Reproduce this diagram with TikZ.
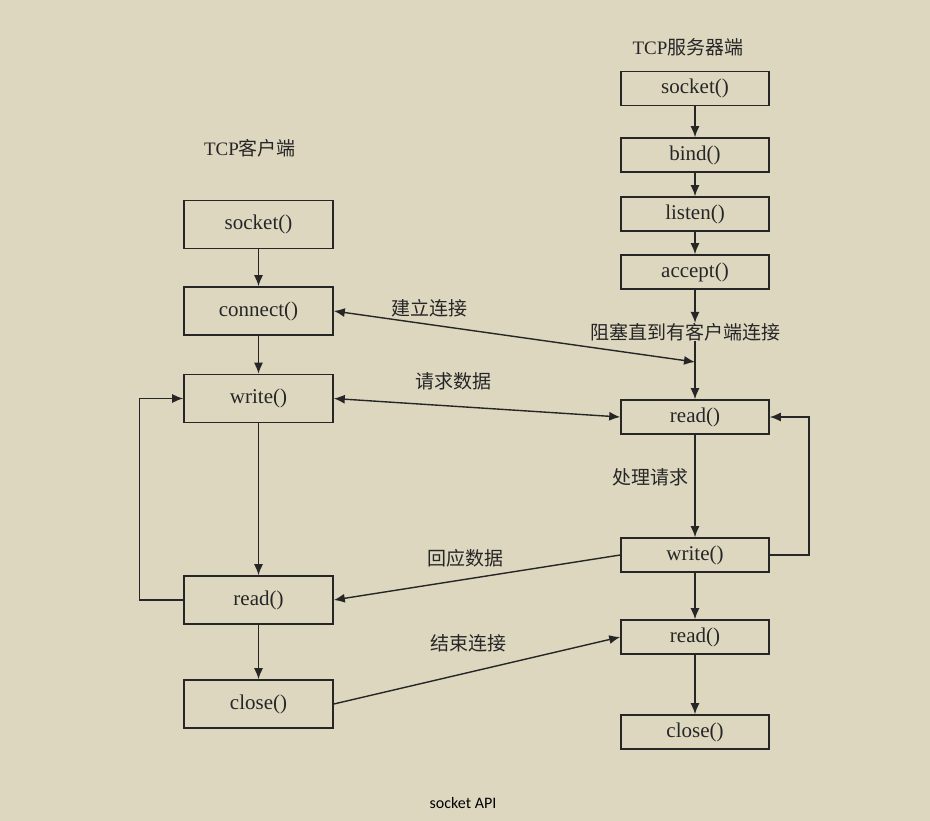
\documentclass[tikz,border=0pt]{standalone}
\usepackage{fontspec}
\setmainfont{Liberation Serif}
\newfontfamily\cjk{Noto Sans CJK SC}
\newfontfamily\capfont{Carlito}
\usetikzlibrary{arrows.meta}
\definecolor{bg}{HTML}{DDD7C0}
\definecolor{ink}{HTML}{262626}
\begin{document}
\begin{tikzpicture}[x=1pt,y=-1pt,
  cbox/.style={draw=ink,line width=1.6pt,rectangle,minimum width=149pt,minimum height=48pt,inner sep=0pt,font=\fontsize{21}{24}\selectfont,text=ink},
  sbox/.style={draw=ink,line width=1.6pt,rectangle,minimum width=148pt,minimum height=34pt,inner sep=0pt,font=\fontsize{21}{24}\selectfont,text=ink},
  lbl/.style={inner sep=0pt,font=\cjk\fontsize{19}{22}\selectfont,text=ink},
  ttl/.style={inner sep=0pt,font=\fontsize{19}{22}\selectfont,text=ink},
  conn/.style={draw=ink,line width=1.4pt,-{Latex[length=11pt,width=9pt]}},
  dconn/.style={draw=ink,line width=1.4pt,{Latex[length=11pt,width=9pt]}-{Latex[length=11pt,width=9pt]}}
]
\fill[bg] (0,0) rectangle (930,821);
\useasboundingbox (0,0) rectangle (930,821);

% titles
\node[ttl] (tsrv) at (688,47) {TCP{\cjk 服务器端}};
\node[ttl] (tcli) at (250,148) {TCP{\cjk 客户端}};

% client
\node[cbox] (csock) at (258.5,224.5) {socket()};
\node[cbox] (cconn) at (258.5,311) {connect()};
\node[cbox] (cwrite) at (258.5,398.5) {write()};
\node[cbox] (cread) at (258.5,600) {read()};
\node[cbox] (cclose) at (258.5,704) {close()};

% server
\node[sbox] (ssock) at (695,88.5) {socket()};
\node[sbox] (sbind) at (695,155) {bind()};
\node[sbox] (slisten) at (695,214) {listen()};
\node[sbox] (saccept) at (695,272) {accept()};
\node[sbox] (sread) at (695,417) {read()};
\node[sbox] (swrite) at (695,555) {write()};
\node[sbox] (sread2) at (695,637) {read()};
\node[sbox] (sclose) at (695,732) {close()};

% labels
\node[lbl] (blk) at (685,332) {阻塞直到有客户端连接};
\node[lbl] (l1) at (429,308) {建立连接};
\node[lbl] (l2) at (453,381) {请求数据};
\node[lbl] (l3) at (465,558) {回应数据};
\node[lbl] (l4) at (468,643) {结束连接};
\node[lbl] (l5) at (650,477) {处理请求};
\node[inner sep=0pt,font=\capfont\fontsize{16}{18}\selectfont,text=black] (cap) at (463,803) {socket API};

% client flow
\draw[conn] (csock) -- (cconn);
\draw[conn] (cconn) -- (cwrite);
\draw[conn] (cwrite) -- (cread);
\draw[conn] (cread) -- (cclose);
\draw[conn] (cread.west) -- ++(-44,0) |- (cwrite.west);

% server flow
\draw[conn] (ssock) -- (sbind);
\draw[conn] (sbind) -- (slisten);
\draw[conn] (slisten) -- (saccept);
\draw[conn] (saccept.south) -- (saccept.south |- blk.north);
\draw[conn] (sread.north |- blk.south) -- (sread.north);
\draw[conn] (sread) -- (swrite);
\draw[conn] (swrite) -- (sread2);
\draw[conn] (sread2) -- (sclose);
\draw[conn] (swrite.east) -- ++(39,0) |- (sread.east);

% exchanges
\coordinate (j1) at (695,362);
\draw[dconn] (cconn.east) -- (j1);
\draw[dconn] (cwrite.east) -- (sread.west);
\draw[conn] (swrite.west) -- (cread.east);
\draw[conn] (cclose.east) -- (sread2.west);
\end{tikzpicture}
\end{document}
